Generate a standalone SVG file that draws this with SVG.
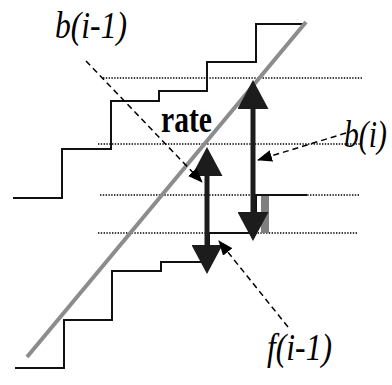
<svg xmlns="http://www.w3.org/2000/svg" width="392" height="385" viewBox="0 0 392 385">
<style>
.dot{stroke:#000;stroke-width:1.4;stroke-dasharray:1.4 1.4;fill:none}
.step{stroke:#111;stroke-width:2;fill:none}
.big{stroke:#1c1c1c;stroke-width:5;fill:none;marker-start:url(#bigHead);marker-end:url(#bigHead)}
.dash{stroke:#000;stroke-width:1.5;stroke-dasharray:6 4;fill:none;marker-end:url(#smallHead)}
.lbl{font-family:"Liberation Serif","Times New Roman",serif;font-size:37px;fill:#000}
</style>
<defs>
<marker id="bigHead" markerUnits="userSpaceOnUse" markerWidth="30" markerHeight="31" viewBox="0 0 30 31" refX="1" refY="15.5" orient="auto-start-reverse">
<path d="M0,0 L29,15.5 L0,31 z" fill="#1c1c1c"/>
</marker>
<marker id="smallHead" markerUnits="userSpaceOnUse" markerWidth="15" markerHeight="12" viewBox="0 0 15 12" refX="14" refY="6" orient="auto">
<path d="M0,0 L15,6 L0,12 z" fill="#000"/>
</marker>
</defs>
<rect width="392" height="385" fill="#fff"/>
<g id="levels">
<line class="dot" x1="103" y1="78" x2="362" y2="78"/>
<line class="dot" x1="98" y1="144" x2="360" y2="144"/>
<line class="dot" x1="100" y1="195" x2="360" y2="195"/>
<line class="dot" x1="98" y1="233" x2="358" y2="233"/>
</g>
<g id="upper-steps">
<polyline class="step" points="13,198 62,198 62,149 111,149 111,101 159,101 159,91 207,91 207,62 256,62 256,24 305,24"/>
</g>
<g id="lower-steps">
<polyline class="step" points="15,368 64,368 64,320 112,320 112,271 161,271 161,262 209,262 209,233 256,233 256,195 307,195"/>
<rect id="gap" x="261" y="196" width="8" height="37" fill="#808080"/>
</g>
<g id="rate-line">
<line x1="27" y1="357" x2="306" y2="22" stroke="#8c8c8c" stroke-width="4"/>
</g>
<g id="connectors">
<line class="big" x1="207" y1="175" x2="207" y2="246"/>
<line class="big" x1="253" y1="108" x2="253" y2="213"/>
<line class="dash" x1="86" y1="61" x2="202" y2="182"/>
<line class="dash" x1="346" y1="133" x2="258" y2="160"/>
<line class="dash" x1="288" y1="327" x2="219" y2="241"/>
</g>
<g id="label-b-prev">
<text class="lbl" x="55" y="38" font-style="italic" textLength="72" lengthAdjust="spacingAndGlyphs">b(i-1)</text>
</g>
<g id="label-rate">
<text class="lbl" x="161" y="132" font-weight="bold" textLength="51" lengthAdjust="spacingAndGlyphs">rate</text>
</g>
<g id="label-b">
<text class="lbl" transform="translate(344,147) scale(0.8,1)" x="0" y="0" font-style="italic">b(i)</text>
</g>
<g id="label-f-prev">
<text class="lbl" x="267" y="360" font-style="italic" textLength="65" lengthAdjust="spacingAndGlyphs">f(i-1)</text>
</g>
</svg>
